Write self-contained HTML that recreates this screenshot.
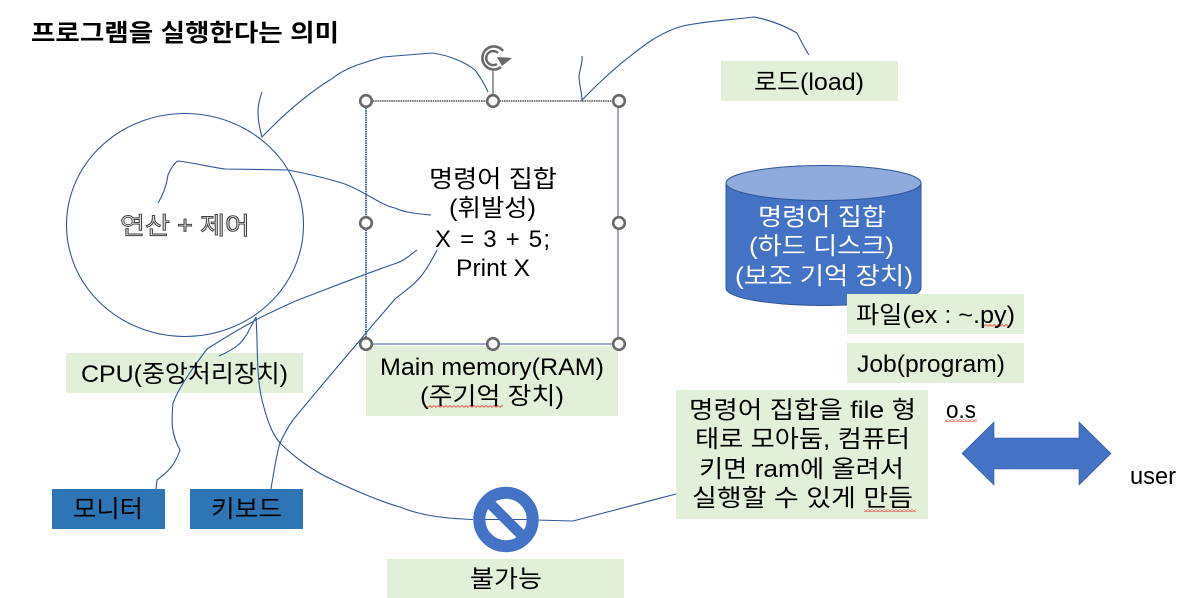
<!DOCTYPE html>
<html lang="ko"><head><meta charset="utf-8"><style>
html,body{margin:0;padding:0;background:#fff;width:1196px;height:598px;overflow:hidden}
svg{display:block}
text{font-family:"Liberation Sans","Noto Sans CJK KR",sans-serif;font-size:24px;fill:#000}
.k{font-family:"Noto Sans CJK KR","Liberation Sans",sans-serif}
.c{fill:none;stroke:#2f5597;stroke-width:1.1}
.g{fill:#e2efd9}
.b{fill:#2e75b6}
.h{fill:#fff;stroke:#696969;stroke-width:2.6}
</style></head><body>
<svg width="1196" height="598" viewBox="0 0 1196 598" xmlns="http://www.w3.org/2000/svg">
<defs><pattern id="sq" width="4" height="3" patternUnits="userSpaceOnUse"><path d="M0 2.5L2 .5L4 2.5" fill="none" stroke="#e8413c" stroke-width=".8"/></pattern></defs>

<!-- green boxes -->
<rect class="g" x="721" y="61" width="177" height="40"/>
<rect class="g" x="66" y="353" width="237" height="40"/>
<rect class="g" x="366" y="346" width="252" height="70"/>
<rect class="g" x="676" y="390" width="252" height="129"/>
<rect class="g" x="387" y="559" width="237" height="39"/>
<rect class="b" x="52" y="489" width="113" height="40"/>
<rect class="b" x="190" y="489" width="113" height="40"/>

<!-- cylinder -->
<path d="M726 183V288C726 298 770 305.500 823.500 305.500C877 305.500 921 298 921 288V183Z" fill="#4472c4" stroke="#2f5597" stroke-width="1"/>
<ellipse cx="823.500" cy="183" rx="97.500" ry="17.500" fill="#8faadc" stroke="#2f5597" stroke-width="1"/>
<rect class="g" x="847" y="294" width="177" height="40"/>
<rect class="g" x="847" y="343" width="177" height="40"/>

<!-- circle -->
<ellipse class="c" cx="185" cy="225" rx="118.500" ry="111.500"/>

<!-- memory rect -->
<path d="M618 101V344H366" fill="none" stroke="#3b5590" stroke-width="1"/>
<path d="M366 101H618" fill="none" stroke="#4a4a4a" stroke-width="1.600" stroke-dasharray="1.500 .8"/>
<path d="M366 101V344" fill="none" stroke="#2f5597" stroke-width="1.800" stroke-dasharray="1.500 .8"/>

<!-- curves -->
<path class="c" d="M262 92C260 98 258 104 258 112C258 122 260 130 262 137C285 113 310 92 333 78C345 68 362 63 383 57L432 53C448 55 465 62 475 70C481 78 485 85 488 92"/>
<path class="c" d="M582 56C583 64 579 70 579 78C580 88 582 94 582 100C605 76 630 55 652 40C665 32 675 28 683 26C705 21 730 20 754 17C770 20 785 26 797 33C802 43 805 49 809 55"/>
<path class="c" d="M158 203C165 192 167 182 168 175C171 168 174 163 178 161C195 163 210 167 225 169L288 170C310 174 325 178 342 183C365 191 380 205 395 208C405 213 420 214 431 215"/>
<path class="c" d="M417 250C408 257 403 261 397 263C370 272 340 284 298 300C280 308 255 318 207 349C195 365 180 385 173 403C171 425 172 435 180 450C175 465 168 472 157 480L156 489"/>
<path class="c" d="M256 317C250 328 245 340 238 345C232 350 226 353 219 356"/>
<path class="c" d="M256 317C258 345 256 375 262 400C267 420 272 434 280 443C295 458 315 472 333 480C355 491 385 503 400 507C412 512 422 514 433 516C445 518 460 519 473 519.500"/>
<path class="c" d="M535 520L573 521L676 494"/>
<path class="c" d="M271 489C274 470 277 452 280 443C284 434 288 427 293 420C315 393 345 358 366 333C375 322 385 311 395 299C405 291 415 284 422 275C428 267 433 258 437 250"/>

<!-- handles -->
<path d="M493 71V96" stroke="#696969" stroke-width="1.300"/>
<circle class="h" cx="366" cy="101" r="5.800"/><circle class="h" cx="493" cy="101" r="5.800"/><circle class="h" cx="619" cy="101" r="5.800"/>
<circle class="h" cx="366" cy="223" r="5.800"/><circle class="h" cx="619" cy="223" r="5.800"/>
<circle class="h" cx="366" cy="344" r="5.800"/><circle class="h" cx="493" cy="344" r="5.800"/><circle class="h" cx="619" cy="344" r="5.800"/>
<!-- rotate icon -->
<path d="M503 51A11.500 11.500 0 1 0 501 67" fill="none" stroke="#696969" stroke-width="2.600"/>
<path d="M498 53A7 7 0 1 0 497 64" fill="none" stroke="#696969" stroke-width="2.400"/>
<path d="M497 57L512 58L502 66Z" fill="#696969"/>

<!-- arrow -->
<path d="M962 453.500L994 422V438H1079V422L1111 453.500L1079 485V469H994V485Z" fill="#4472c4" stroke="#2f5597" stroke-width=".6"/>

<!-- prohibit -->
<path d="M480 519.500H530" stroke="#2f5597" stroke-width="1"/>
<circle cx="506" cy="519.500" r="26.700" fill="none" stroke="#4472c4" stroke-width="12"/>
<path d="M487 500.500L525 538.500" stroke="#4472c4" stroke-width="10.500"/>

<!-- squiggles -->
<rect x="427" y="405" width="76" height="3" fill="url(#sq)"/>
<rect x="982" y="324" width="29" height="3" fill="url(#sq)"/>
<rect x="945" y="419" width="32" height="3" fill="url(#sq)"/>
<rect x="864" y="509" width="52" height="3" fill="url(#sq)"/>

<!-- text -->
<text class="k" x="31" y="41" textLength="308" lengthAdjust="spacingAndGlyphs" style="font-weight:700">프로그램을 실행한다는 의미</text>
<text class="k" x="120" y="234" textLength="130" lengthAdjust="spacingAndGlyphs" style="fill:#e4e4e4;stroke:#404040;stroke-width:.9">연산 + 제어</text>

<text x="429" y="187" textLength="128" lengthAdjust="spacingAndGlyphs">명령어 집합</text>
<text x="449" y="216" textLength="87" lengthAdjust="spacingAndGlyphs">(휘발성)</text>
<text x="435" y="247" textLength="115" lengthAdjust="spacing">X = 3 + 5;</text>
<text x="456" y="276" textLength="74" lengthAdjust="spacingAndGlyphs">Print X</text>

<text x="754" y="90" textLength="110" lengthAdjust="spacingAndGlyphs">로드(load)</text>

<text x="758" y="225" textLength="128" lengthAdjust="spacingAndGlyphs" style="fill:#fff">명령어 집합</text>
<text x="749" y="254" textLength="145" lengthAdjust="spacingAndGlyphs" style="fill:#fff">(하드 디스크)</text>
<text x="735" y="284" textLength="178" lengthAdjust="spacingAndGlyphs" style="fill:#fff">(보조 기억 장치)</text>

<text x="856" y="323" textLength="159" lengthAdjust="spacingAndGlyphs">파일(ex : ~.py)</text>
<text x="857" y="372" textLength="148" lengthAdjust="spacingAndGlyphs">Job(program)</text>

<text x="689" y="418" textLength="227" lengthAdjust="spacingAndGlyphs">명령어 집합을 file 형</text>
<text x="695" y="447" textLength="215" lengthAdjust="spacingAndGlyphs">태로 모아둠, 컴퓨터</text>
<text x="699" y="477" textLength="205" lengthAdjust="spacingAndGlyphs">키면 ram에 올려서</text>
<text x="692" y="506" textLength="221" lengthAdjust="spacingAndGlyphs">실행할 수 있게 만듬</text>

<text x="946" y="418" textLength="30" lengthAdjust="spacingAndGlyphs">o.s</text>
<text x="1130" y="484" textLength="46" lengthAdjust="spacingAndGlyphs">user</text>

<text x="81" y="382" textLength="207" lengthAdjust="spacingAndGlyphs">CPU(중앙처리장치)</text>
<text x="73" y="517" textLength="70" lengthAdjust="spacingAndGlyphs">모니터</text>
<text x="211" y="517" textLength="71" lengthAdjust="spacingAndGlyphs">키보드</text>
<text x="470" y="587" textLength="72" lengthAdjust="spacingAndGlyphs">불가능</text>
<text x="380" y="375" textLength="224" lengthAdjust="spacingAndGlyphs">Main memory(RAM)</text>
<text x="420" y="404" textLength="144" lengthAdjust="spacingAndGlyphs">(주기억 장치)</text>
</svg>
</body></html>
